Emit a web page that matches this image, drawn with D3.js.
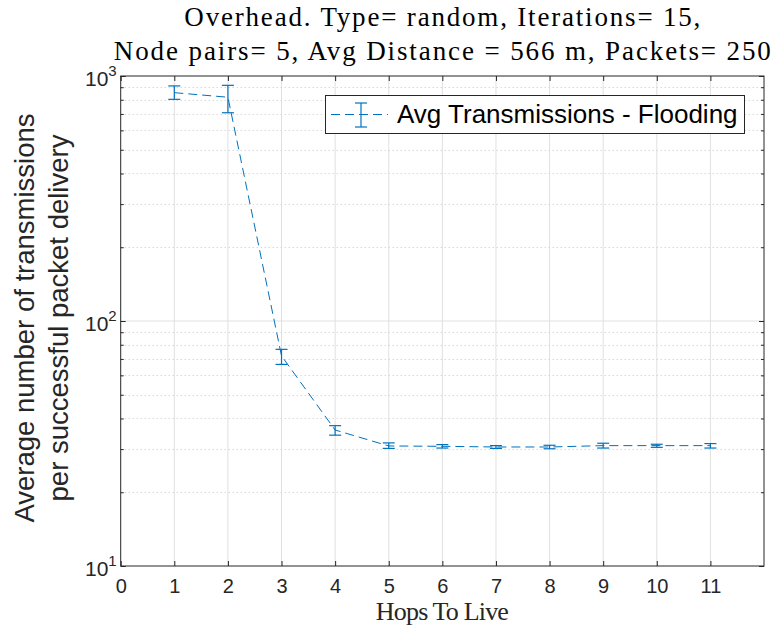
<!DOCTYPE html>
<html lang="en">
<head>
  <meta charset="UTF-8">
  <title>Overhead - Flooding</title>
  <script src="https://d3js.org/d3.v7.min.js"></script>
  <style>
    body { margin: 0; background: #fff; }
    svg { display: block; }
    .tick text { font-family: 'Liberation Sans', Arial, sans-serif; fill: #262626; }
  </style>
</head>
<body>
  <script>
    // data
    var hops = [1, 2, 3, 4, 5, 6, 7, 8, 9, 10, 11];
    var avgTx = [855, 819, 72, 35.9, 30.9, 30.8, 30.6, 30.6, 31.0, 31.0, 31.0];
    var errLow = [803, 708, 66.5, 34.2, 30.2, 30.3, 30.2, 30.1, 30.3, 30.5, 30.3];
    var errHigh = [911, 916, 76.6, 37.4, 31.8, 31.3, 31.0, 31.1, 31.7, 31.4, 31.6];
    var xTicks = [0, 1, 2, 3, 4, 5, 6, 7, 8, 9, 10, 11];
    var xGrid = [1, 2, 3, 4, 5, 6, 7, 8, 9, 10, 11];
    var yTicks = [10, 100, 1000];
    var yExps = ["1", "2", "3"];
    var yMinor = [20, 30, 40, 50, 60, 70, 80, 90, 200, 300, 400, 500, 600, 700, 800, 900];
    var titleLines = ["Overhead. Type= random, Iterations= 15,",
                      "Node pairs= 5, Avg Distance = 566 m, Packets= 250"];
    var xLabel = "Hops To Live";
    var yLabelLines = ["Average number of transmissions", "per successful packet delivery"];
    var legendLabel = "Avg Transmissions - Flooding";

    var width = 777, height = 634;
    var pLeft = 120.7, pRight = 764, pTop = 76, pBottom = 566;
    var blue = "#0072BD", axisCol = "#262626";

    var svg = d3.select("body").append("svg")
      .attr("width", width)
      .attr("height", height);

    var x = d3.scaleLinear().domain([0, 12]).range([pLeft, pRight]);
    var y = d3.scaleLog().domain([10, 1000]).range([pBottom, pTop]);

    // grid
    var grid = svg.append("g");
    grid.selectAll(".vgrid")
      .data(xGrid)
      .join("line")
      .attr("x1", d => x(d)).attr("x2", d => x(d))
      .attr("y1", pTop).attr("y2", pBottom)
      .attr("stroke", "#e0e0e0").attr("stroke-width", 1);
    grid.selectAll(".mgrid")
      .data(yMinor)
      .join("line")
      .attr("x1", pLeft).attr("x2", pRight)
      .attr("y1", d => Math.round(y(d)) + 0.5).attr("y2", d => Math.round(y(d)) + 0.5)
      .attr("stroke", "#c8c8c8").attr("stroke-width", 1)
      .attr("stroke-dasharray", "1,3");
    grid.append("line")
      .attr("x1", pLeft).attr("x2", pRight)
      .attr("y1", y(100)).attr("y2", y(100))
      .attr("stroke", "#e0e0e0").attr("stroke-width", 1);

    // axes with inward ticks
    svg.append("g")
      .attr("transform", "translate(0," + pBottom + ")")
      .call(d3.axisBottom(x).tickValues(xTicks).tickFormat(d3.format("d"))
        .tickSizeInner(-5).tickSizeOuter(0).tickPadding(13))
      .call(g => g.select(".domain").remove())
      .call(g => g.selectAll("line").attr("stroke", axisCol))
      .call(g => g.selectAll("text").attr("font-size", 20));

    svg.append("g")
      .attr("transform", "translate(0," + pTop + ")")
      .call(d3.axisTop(x).tickValues(xTicks).tickFormat("")
        .tickSizeInner(-5).tickSizeOuter(0))
      .call(g => g.select(".domain").remove())
      .call(g => g.selectAll("line").attr("stroke", axisCol));

    [[d3.axisLeft, pLeft], [d3.axisRight, pRight]].forEach(function(a) {
      svg.append("g")
        .attr("transform", "translate(" + a[1] + ",0)")
        .call(a[0](y).tickValues(yTicks).tickFormat("").tickSizeInner(-5).tickSizeOuter(0))
        .call(g => g.select(".domain").remove())
        .call(g => g.selectAll("line").attr("stroke", axisCol));
      svg.append("g")
        .attr("transform", "translate(" + a[1] + ",0)")
        .call(a[0](y).tickValues(yMinor).tickFormat("").tickSizeInner(-3).tickSizeOuter(0))
        .call(g => g.select(".domain").remove())
        .call(g => g.selectAll("line").attr("stroke", axisCol));
    });

    // box
    svg.append("rect")
      .attr("x", pLeft).attr("y", pTop)
      .attr("width", pRight - pLeft).attr("height", pBottom - pTop)
      .attr("fill", "none").attr("stroke", axisCol).attr("stroke-width", 1);

    // y tick labels 10^n
    var yl = svg.append("g")
      .attr("font-family", "'Liberation Sans', Arial, sans-serif")
      .attr("fill", axisCol);
    yTicks.forEach(function(v, i) {
      var t = yl.append("text")
        .attr("x", pLeft - 4)
        .attr("y", y(v) + 10)
        .attr("text-anchor", "end")
        .attr("font-size", 21);
      t.append("tspan").text("10");
      t.append("tspan").attr("font-size", 15).attr("dy", -10).text(yExps[i]);
    });

    // series: dashed line through means
    var line = d3.line()
      .x((d, i) => x(hops[i]))
      .y(d => y(d));
    svg.append("path")
      .datum(avgTx)
      .attr("d", line)
      .attr("fill", "none")
      .attr("stroke", blue)
      .attr("stroke-width", 1)
      .attr("stroke-dasharray", "9,5");

    // error bars
    var cap = 6;
    var eb = svg.append("g").attr("stroke", blue).attr("stroke-width", 1.2);
    hops.forEach(function(h, i) {
      var cx = x(h);
      eb.append("line").attr("x1", cx).attr("x2", cx)
        .attr("y1", y(errLow[i])).attr("y2", y(errHigh[i]));
      eb.append("line").attr("x1", cx - cap).attr("x2", cx + cap)
        .attr("y1", y(errLow[i])).attr("y2", y(errLow[i]));
      eb.append("line").attr("x1", cx - cap).attr("x2", cx + cap)
        .attr("y1", y(errHigh[i])).attr("y2", y(errHigh[i]));
    });

    // legend
    var lg = svg.append("g");
    lg.append("rect")
      .attr("x", 325.5).attr("y", 95.5)
      .attr("width", 419).attr("height", 38)
      .attr("fill", "#fff").attr("stroke", axisCol).attr("stroke-width", 1);
    lg.append("line")
      .attr("x1", 331).attr("x2", 388).attr("y1", 114.5).attr("y2", 114.5)
      .attr("stroke", blue).attr("stroke-width", 1).attr("stroke-dasharray", "9,5");
    lg.append("line").attr("x1", 361).attr("x2", 361).attr("y1", 103).attr("y2", 127)
      .attr("stroke", blue).attr("stroke-width", 1.2);
    lg.append("line").attr("x1", 355).attr("x2", 367).attr("y1", 103).attr("y2", 103)
      .attr("stroke", blue).attr("stroke-width", 1.2);
    lg.append("line").attr("x1", 355).attr("x2", 367).attr("y1", 127).attr("y2", 127)
      .attr("stroke", blue).attr("stroke-width", 1.2);
    lg.append("text")
      .attr("x", 397).attr("y", 123)
      .attr("font-family", "'Liberation Sans', Arial, sans-serif")
      .attr("font-size", 26)
      .attr("fill", "#000")
      .text(legendLabel);

    // title
    var serif = "'Liberation Serif', 'Times New Roman', serif";
    svg.append("text")
      .attr("x", (pLeft + pRight) / 2).attr("y", 26)
      .attr("text-anchor", "middle")
      .attr("font-family", serif).attr("font-size", 27).attr("fill", "#000")
      .attr("textLength", 516).attr("lengthAdjust", "spacing")
      .text(titleLines[0]);
    svg.append("text")
      .attr("x", (pLeft + pRight) / 2).attr("y", 60)
      .attr("text-anchor", "middle")
      .attr("font-family", serif).attr("font-size", 27).attr("fill", "#000")
      .attr("textLength", 657).attr("lengthAdjust", "spacing")
      .text(titleLines[1]);

    // x label
    svg.append("text")
      .attr("x", (pLeft + pRight) / 2).attr("y", 620)
      .attr("text-anchor", "middle")
      .attr("font-family", serif).attr("font-size", 26).attr("fill", axisCol)
      .attr("textLength", 133).attr("lengthAdjust", "spacing")
      .text(xLabel);

    // y label, two lines
    var ylab = svg.append("text")
      .attr("transform", "translate(34," + ((pTop + pBottom) / 2 - 3) + ") rotate(-90)")
      .attr("text-anchor", "middle")
      .attr("font-family", "'Liberation Sans', Arial, sans-serif")
      .attr("font-size", 27.5)
      .attr("fill", axisCol);
    ylab.append("tspan").attr("x", 0).attr("y", 0).text(yLabelLines[0]);
    ylab.append("tspan").attr("x", 0).attr("y", 34).text(yLabelLines[1]);
  </script>
</body>
</html>
